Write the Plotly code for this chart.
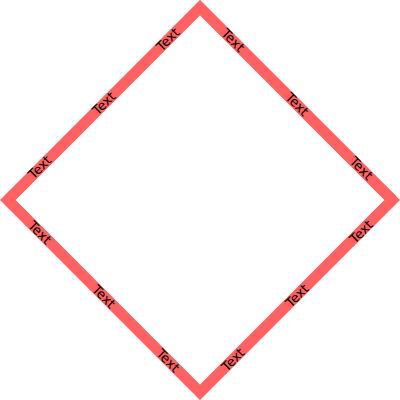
import math
import plotly.graph_objects as go

# diamond outline (closed path)
x_path = [0, 1, 0, -1, 0]
y_path = [1, 0, -1, 0, 1]

# label text and where it sits along each edge
label_text = "Text"
label_fracs = [1 / 6, 1 / 2, 5 / 6]

line_color = "#ff6161"

fig = go.Figure()
# repeat the second point so the start vertex gets a proper join too
fig.add_trace(go.Scatter(x=x_path + x_path[1:2], y=y_path + y_path[1:2], mode="lines",
                         line=dict(color=line_color, width=11),
                         hoverinfo="skip", showlegend=False))

# put labels along each edge, rotated to follow the line
for i in range(len(x_path) - 1):
    x0, y0, x1, y1 = x_path[i], y_path[i], x_path[i + 1], y_path[i + 1]
    ang = math.degrees(math.atan2(y1 - y0, x1 - x0))
    if ang > 90:
        ang -= 180
    elif ang < -90:
        ang += 180
    for f in label_fracs:
        fig.add_annotation(x=x0 + (x1 - x0) * f, y=y0 + (y1 - y0) * f,
                           text=label_text, showarrow=False, textangle=-ang,
                           font=dict(family="DejaVu Sans", size=13, color="black"),
                           xanchor="center", yanchor="middle")

fig.update_layout(
    width=400, height=400,
    margin=dict(l=0, r=0, t=0, b=0),
    paper_bgcolor="white", plot_bgcolor="white",
    xaxis=dict(range=[-1.04, 1.04], visible=False, fixedrange=True),
    yaxis=dict(range=[-1.04, 1.04], visible=False, fixedrange=True),
)

# page body margin would shift the figure
fig.write_html("out.html", config={"displayModeBar": False},
               post_script="document.body.style.margin='0';")
